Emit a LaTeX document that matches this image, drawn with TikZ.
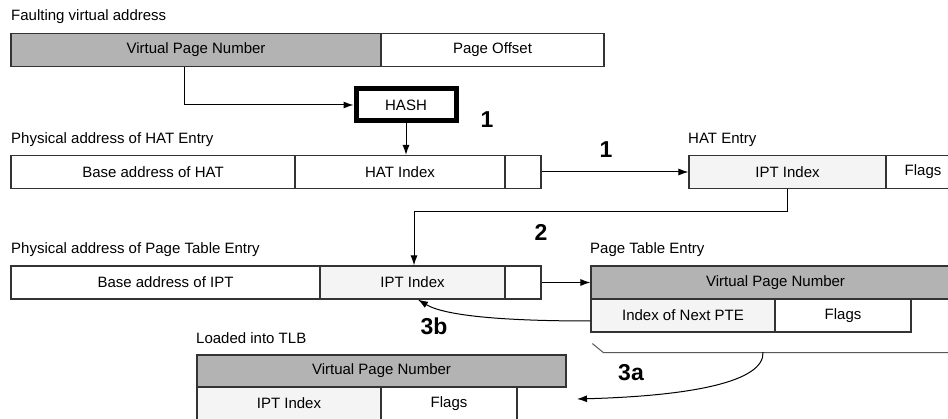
\documentclass[tikz,border=0pt]{standalone}
\usepackage{fontspec}
\setmainfont{Liberation Sans}
\usetikzlibrary{arrows.meta}
\definecolor{vpngray}{HTML}{B3B3B3}
\definecolor{lightfill}{HTML}{F4F4F4}
\definecolor{edge}{HTML}{333333}
\begin{document}
\begin{tikzpicture}[x=1pt,y=-1pt,
  field/.style={draw=edge,line width=1.2pt,inner sep=0pt,minimum height=33pt,
    font=\fontsize{15}{18}\selectfont,anchor=center},
  grayf/.style={field,fill=vpngray},
  lightf/.style={field,fill=lightfill},
  whitef/.style={field,fill=white},
  caption/.style={inner sep=0pt,anchor=west,font=\fontsize{15}{18}\selectfont},
  stepnum/.style={inner sep=0pt,font=\fontsize{23}{26}\selectfont\bfseries},
  arr/.style={draw=black,line width=1pt,-{Latex[length=10pt,width=7pt]}},
  hashbox/.style={draw=black,line width=5pt,fill=white,minimum width=100pt,
    minimum height=32pt,inner sep=0pt,font=\fontsize{15}{18}\selectfont}]
\clip (0,0) rectangle (948,419);
\fill[white] (0,0) rectangle (948,419);

% row 1: faulting virtual address
\node[caption] (lab1) at (11,17) {Faulting virtual address};
\node[grayf,minimum width=370pt] (vpn1) at (196,50) {Virtual Page Number};
\node[whitef,minimum width=223pt] (po1) at (492.5,50) {Page Offset};

% hash
\node[hashbox] (hash) at (406,105) {HASH};
\node[stepnum] (n1a) at (487,120) {1};

% row 2: physical address of HAT entry
\node[caption] (lab2) at (11,140) {Physical address of HAT Entry};
\node[whitef,minimum width=284pt] (hatbase) at (153,172) {Base address of HAT};
\node[whitef,minimum width=210pt] (hatidx) at (400,172) {HAT Index};
\node[whitef,minimum width=36pt] (hatsm) at (523,172) {};

% HAT entry
\node[caption] (lab3) at (688,140) {HAT Entry};
\node[lightf,minimum width=197pt] (ipt1) at (787.5,172) {IPT Index};
\node[whitef,minimum width=74pt] (flags1) at (923,172) {Flags};
\node[stepnum] (n1b) at (606,150) {1};

% row 3: physical address of PTE
\node[caption] (lab4) at (11,250) {Physical address of Page Table Entry};
\node[whitef,minimum width=309pt] (iptbase) at (165.5,282.5) {Base address of IPT};
\node[lightf,minimum width=185pt] (iptidx) at (412.5,282.5) {IPT Index};
\node[whitef,minimum width=36pt] (iptsm) at (523,282.5) {};
\node[stepnum] (n2) at (541,232) {2};

% page table entry
\node[caption] (lab5) at (590,250) {Page Table Entry};
\node[grayf,minimum width=369pt] (ptevpn) at (775.5,282.5) {Virtual Page Number};
\node[lightf,minimum width=184pt] (pteidx) at (683,315.5) {Index of Next PTE};
\node[whitef,minimum width=136pt] (pteflags) at (843,315.5) {Flags};

% TLB
\node[caption] (lab6) at (196,338) {Loaded into TLB};
\node[grayf,minimum width=369pt,minimum height=32pt] (tlbvpn) at (381.5,371) {Virtual Page Number};
\node[lightf,minimum width=184pt] (tlbidx) at (289,403.5) {IPT Index};
\node[whitef,minimum width=136pt] (tlbflags) at (449,403.5) {Flags};

\node[stepnum] (n3b) at (434,326) {3b};
\node[stepnum] (n3a) at (631,373) {3a};

% connectors
\draw[arr] ([xshift=-12pt]vpn1.south) |- (hash.west);
\draw[arr] (hash.south) -- (hash.south |- hatidx.north);
\draw[arr] (hatsm.east) -- (ipt1.west);
\draw[arr] (ipt1.south) -- ++(0,22) -| ([xshift=1.5pt]iptidx.north);
\draw[arr] (iptsm.east) -- (ptevpn.west);

% bracket under page table entry
\coordinate (b3a) at (763,352);
\coordinate (t3a) at (577,399);
\draw[draw=black!65,line width=1pt] ([xshift=2pt,yshift=-11pt]pteidx.south west) -- ++(11,9) -- ++(360,0);
\draw[arr] (b3a) .. controls (765,382) and (690,396) .. (t3a);
\draw[arr] ([yshift=-5.5pt]pteidx.west) .. controls (505,321) and (445,316) .. ([xshift=5.5pt]iptidx.south);
\end{tikzpicture}
\end{document}
